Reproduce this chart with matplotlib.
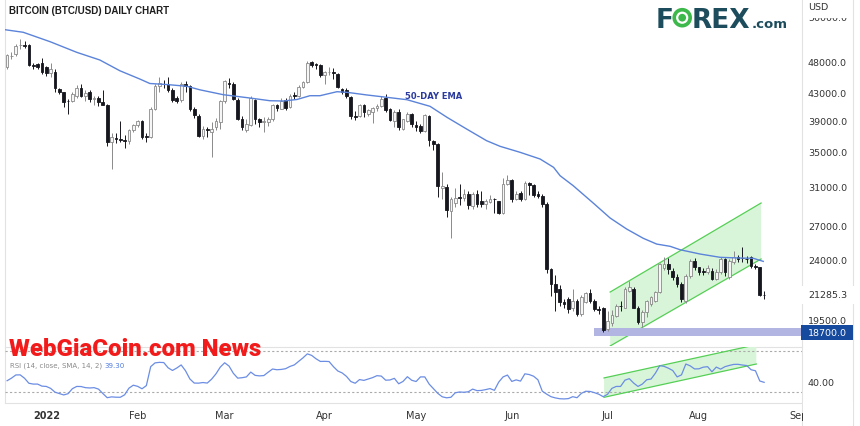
import matplotlib
matplotlib.use("Agg")
import matplotlib.pyplot as plt
import matplotlib.transforms as mtransforms
from matplotlib.lines import Line2D
from matplotlib.patches import Rectangle, Circle
from matplotlib.ticker import NullLocator

# trading-day index: 0 = Mon 3 Jan 2022 (the chart skips weekends)
day_idx = list(range(-9, 166))

opens = [
    47200, 49000, 49400, 50900, 50950, 50900, 47500, 47650, 47750, 47100,
    46150, 46300, 43700, 43200, 41900, 41870, 42600, 43850, 42700, 43200,
    42200, 42400, 41800, 41300, 36300, 36800, 36700, 36500, 36400, 37900,
    38500, 39000, 37100, 36900, 40800, 44100, 44500, 44400, 43600, 42400,
    42000, 44500, 44200, 40800, 39800, 37100, 38000, 37600, 38200, 38900,
    41900, 44600, 44400, 42100, 39300, 37800, 38500, 42100, 39300, 38900,
    38900, 39300, 41300, 40800, 42100, 41000, 42800, 42700, 44000, 44800,
    47950, 47600, 47500, 45870, 46300, 46400, 46100, 43700, 43500, 42500,
    39800, 39800, 41300, 40050, 40300, 40850, 41200, 42400, 40700, 39100,
    40300, 38000, 39100, 40000, 38550, 38350, 37750, 39800, 36450, 36050,
    30900, 31000, 28500, 29300, 30000, 29900, 30300, 29000, 30300, 29500,
    29200, 29400, 29800, 29500, 28300, 31400, 31800, 29700, 30400, 29700,
    31500, 31200, 30300, 30100, 29200, 23300, 22100, 21700, 20750, 20950,
    20370, 20860, 19910, 20800, 21420, 20860, 20250, 20300, 18900, 19300,
    19800, 20500, 20370, 21600, 21720, 20370, 19350, 20030, 20610, 20860,
    21470, 23400, 23710, 23160, 22640, 22120, 20860, 22770, 23990, 23500,
    23100, 23030, 23160, 22500, 23030, 24130, 22640, 23850, 24270, 24200,
    24150, 24270, 23550, 23450, 21300,
]
highs = [
    49400, 49700, 51200, 52000, 51600, 51100, 47900, 47900, 48700, 47400,
    47800, 46800, 43900, 43300, 42200, 43200, 44300, 44400, 43500, 43500,
    42700, 42600, 43500, 41500, 37500, 37500, 39000, 37200, 38000, 38700,
    39200, 39200, 37400, 41000, 44400, 45500, 45100, 45600, 43900, 42700,
    44800, 44900, 44300, 41000, 40000, 38400, 38300, 38900, 39500, 42000,
    45000, 45400, 44700, 42400, 39700, 39300, 42600, 42200, 39500, 39600,
    39600, 41500, 41500, 42300, 42300, 43000, 43300, 44300, 44900, 48200,
    48200, 47900, 47700, 46500, 47200, 47000, 46200, 43900, 43900, 42600,
    40500, 41500, 41500, 40700, 41000, 41500, 42700, 43000, 40900, 40600,
    40700, 39400, 40300, 40200, 39000, 38600, 40000, 39900, 36600, 36200,
    32650, 31300, 30000, 30900, 31300, 30800, 30600, 30500, 30700, 30600,
    29800, 30200, 29900, 29500, 32000, 32300, 31900, 30600, 30600, 31700,
    31600, 31400, 30600, 30300, 29400, 23400, 22800, 22000, 21000, 21100,
    21720, 21000, 21300, 21500, 21700, 21000, 20500, 20400, 20100, 20200,
    20600, 20860, 21900, 22370, 21900, 20500, 20200, 20900, 21200, 21600,
    23800, 24270, 24200, 23400, 22900, 22300, 22900, 24100, 24200, 23500,
    23400, 23600, 23400, 23300, 24300, 24200, 24100, 24840, 24500, 25130,
    24400, 24400, 23700, 23500, 21600,
]
lows = [
    46800, 48500, 49000, 50300, 50400, 47300, 46900, 46900, 46000, 45750,
    45600, 43300, 43000, 41000, 40000, 41700, 42400, 42500, 41900, 41700,
    41300, 41200, 41300, 35800, 33000, 36200, 36300, 35600, 36100, 37600,
    38200, 36700, 36300, 36800, 40600, 43300, 43800, 43300, 41800, 41600,
    41800, 43300, 40400, 39500, 36900, 36700, 37000, 34400, 37800, 38000,
    41600, 43800, 42100, 39200, 37800, 37600, 38400, 38700, 38300, 37600,
    38400, 39000, 40500, 40700, 40600, 40900, 42200, 42500, 43800, 44600,
    47200, 46800, 45600, 44500, 45800, 45300, 43800, 43000, 42400, 39400,
    39200, 39600, 39600, 39800, 38800, 40500, 41000, 40300, 39000, 38300,
    37900, 37800, 38900, 38300, 37700, 37500, 37600, 35800, 35300, 30000,
    29800, 27900, 26000, 28900, 29100, 29500, 28700, 28700, 28900, 28900,
    28700, 29300, 28300, 28200, 28200, 31200, 29400, 29600, 29500, 29600,
    30200, 30000, 29900, 28900, 23000, 21200, 20100, 20500, 20300, 20000,
    20150, 19800, 19800, 20700, 20700, 20100, 19900, 18700, 18750, 19100,
    19700, 20100, 20300, 21500, 20300, 19200, 19000, 19700, 20500, 20800,
    21400, 23200, 22900, 22400, 21900, 20800, 20700, 22600, 23200, 22800,
    22800, 22900, 22400, 22400, 22900, 22770, 22500, 23700, 23900, 23900,
    23800, 23400, 23300, 21200, 20950,
]
closes = [
    49200, 49050, 50700, 50950, 50800, 47550, 47350, 47150, 46300, 46150,
    46900, 43800, 43200, 41700, 41850, 42950, 43850, 42700, 43100, 42200,
    42400, 41750, 41300, 36300, 37000, 36700, 36600, 36400, 37800, 38500,
    39000, 36900, 36900, 40700, 44200, 44600, 44400, 43600, 42000, 41900,
    44500, 44200, 40800, 39900, 37100, 38000, 37800, 38000, 39100, 41900,
    44900, 44500, 42200, 39300, 38200, 38700, 42300, 39400, 38900, 39000,
    39400, 41300, 40900, 41900, 40900, 42700, 42700, 44000, 44700, 47900,
    47500, 47450, 45870, 46300, 46350, 46200, 44000, 43300, 42700, 39800,
    39600, 41300, 40300, 40600, 40850, 41200, 42200, 40600, 39250, 40300,
    38200, 39300, 40000, 38650, 38200, 37750, 39900, 36500, 36050, 31150,
    31100, 28600, 29700, 29900, 29900, 30300, 29100, 30300, 29200, 29200,
    29500, 29800, 29700, 28300, 31400, 31800, 29700, 30300, 29700, 31500,
    31200, 30200, 30100, 29200, 23300, 22100, 21500, 20750, 20650, 20250,
    20860, 19910, 21100, 21420, 20860, 20260, 20200, 18800, 19460, 19850,
    20490, 20450, 21720, 21850, 20370, 19350, 20030, 20860, 21100, 21470,
    23710, 23700, 23300, 22640, 22120, 20980, 22770, 23990, 23430, 23030,
    23080, 23350, 22500, 23030, 24130, 23030, 23990, 24270, 24130, 24180,
    24100, 23570, 23500, 21270, 21285.3,
]

# 50-day EMA
ema_pos = [-9.5, -5.3, 0.9, 7.0, 12.3, 16.9, 21.5, 23.8, 27.7, 32.3, 35.3, 40.7,
           46.8, 51.4, 54.5, 57.6, 60.6, 62.9, 66.8, 69.1, 73.7, 78.3, 82.9, 88.2,
           92.1, 96.6, 101.2, 104.3, 108.9, 113.5, 116.6, 118.1, 121.1, 125.7,
           129.6, 133.4, 137.2, 140.3, 143.4, 145.7, 150.3, 154.9, 159.4, 162.5, 164.8]
ema_val = [53730, 53250, 51520, 49650, 48340, 46560, 45230, 44530, 44370, 44100,
           43560, 42820, 42330, 41930, 41890, 42110, 42670, 42670, 43270, 43180,
           42780, 42430, 42080, 41120, 39570, 37990, 36470, 35760, 35020, 34210,
           33230, 32270, 31170, 29340, 27840, 26790, 25940, 25420, 25220, 24920,
           24550, 24270, 24210, 24190, 23930]

# RSI(14) per trading day
rsi = [
    41.3, 43.8, 46.9, 47.0, 43.7, 38.8, 38.0, 38.0, 36.0, 35.7,
    33.8, 30.1, 28.7, 27.4, 28.6, 33.5, 35.7, 35.6, 34.5, 34.2,
    34.5, 33.1, 28.8, 24.7, 25.5, 25.2, 25.1, 27.5, 34.0, 36.9,
    35.8, 33.4, 36.5, 55.0, 58.7, 59.2, 59.0, 53.9, 51.3, 53.7,
    56.7, 51.0, 43.0, 39.0, 38.9, 39.5, 39.0, 42.8, 48.0, 54.6,
    58.8, 55.6, 48.5, 43.8, 44.2, 45.0, 49.7, 46.5, 46.0, 46.3,
    49.6, 52.7, 52.0, 52.3, 53.0, 55.2, 56.7, 60.1, 63.6, 67.5,
    66.0, 62.7, 60.1, 60.2, 60.0, 55.0, 50.8, 48.9, 45.5, 40.5,
    38.8, 42.4, 41.6, 42.9, 44.3, 46.2, 45.8, 41.8, 42.0, 43.6,
    38.3, 40.6, 45.2, 41.7, 40.5, 45.0, 45.0, 38.0, 33.5, 28.9,
    25.6, 24.6, 25.1, 29.5, 30.3, 30.0, 30.5, 33.1, 31.6, 31.8,
    32.6, 33.6, 31.9, 40.0, 45.0, 46.8, 40.6, 42.1, 40.9, 48.0,
    47.3, 45.7, 42.2, 31.1, 28.2, 25.7, 24.5, 23.7, 23.5, 23.8,
    25.7, 24.7, 29.0, 31.0, 30.8, 29.6, 28.1, 25.7, 28.0, 33.8,
    35.7, 35.7, 41.8, 43.3, 39.0, 35.7, 38.0, 42.2, 42.9, 48.6,
    56.0, 55.3, 53.5, 51.2, 45.0, 47.0, 57.6, 55.8, 52.8, 52.9,
    54.5, 55.0, 50.0, 54.6, 52.6, 55.0, 56.2, 57.2, 57.3, 56.6,
    56.1, 52.0, 51.0, 41.0, 39.7,
]

# drawn-in analysis: rising channel on price and on RSI, support zone
chan_x = [129.6, 164.3]
chan_lo = [17808, 24130]
chan_hi = [21500, 29340]
rsi_chan_x = [128.2, 163.2]
rsi_chan_lo = [25.1, 57.6]
rsi_chan_hi = [44.0, 76.4]
support = 18700
support_zone = (18440, 18960)
support_start = 125.9

price_ticks = [56000, 48000, 43000, 39000, 35000, 31000, 27000, 24000, 19500]
month_idx = [0, 21, 41, 64, 85, 107, 129, 150, 173]
month_lbl = ['2022', 'Feb', 'Mar', 'Apr', 'May', 'Jun', 'Jul', 'Aug', 'Sep']

W, H = 860, 427


def fx(x):
    return x / W


def fy(y):
    return 1 - y / H


fig = plt.figure(figsize=(W / 100, H / 100), dpi=100)
fig.patch.set_facecolor('white')

ax = fig.add_axes([fx(5), fy(347), fx(802) - fx(5), fy(0) - fy(347)])
ax_rsi = fig.add_axes([fx(5), fy(403), fx(802) - fx(5), fy(348) - fy(403)])
xmin, xmax = -9.49, 173.7
for a in (ax, ax_rsi):
    a.patch.set_visible(False)
    for s in a.spines.values():
        s.set_visible(False)
    a.set_xlim(xmin, xmax)

ax.set_yscale('log')
ax.set_ylim(17808, 59810)
ax.set_xticks([])
ax.set_yticks([])
ax.yaxis.set_minor_locator(NullLocator())

# channel + support zone
ax.fill([chan_x[0], chan_x[1], chan_x[1], chan_x[0]],
        [chan_lo[0], chan_lo[1], chan_hi[1], chan_hi[0]],
        color='#d9f5d9', lw=0, zorder=1)
ax.plot(chan_x, chan_lo, color='#55cf55', lw=0.9, zorder=2)
ax.plot(chan_x, chan_hi, color='#55cf55', lw=0.9, zorder=2)
ax.fill_between([support_start, xmax + 1], support_zone[0], support_zone[1],
                color='#b2b4e2', lw=0, zorder=2)

# candles
up = [c >= o for o, c in zip(opens, closes)]
edge = ['#8a8a8a' if u else '#15161e' for u in up]
face = ['#f6f6f6' if u else '#15161e' for u in up]
ax.vlines(day_idx, lows, highs, colors=edge, linewidth=0.7, zorder=4)
ax.bar(day_idx, [abs(c - o) for o, c in zip(opens, closes)],
       bottom=[min(o, c) for o, c in zip(opens, closes)],
       width=0.62, color=face, edgecolor=edge, linewidth=0.6, zorder=5)

ax.plot(ema_pos, ema_val, color='#5b83d9', lw=1.0, zorder=6)
ax.text(89.1, 42630, '50-DAY EMA', color='#2b3a9e', fontsize=6, fontweight='bold',
        ha='center', va='center', zorder=7)

# RSI panel
ax_rsi.set_ylim(20.5, 74.2)
ax_rsi.set_yticks([])
ax_rsi.fill([rsi_chan_x[0], rsi_chan_x[1], rsi_chan_x[1], rsi_chan_x[0]],
            [rsi_chan_lo[0], rsi_chan_lo[1], rsi_chan_hi[1], rsi_chan_hi[0]],
            color='#d9f5d9', lw=0, zorder=1)
ax_rsi.plot(rsi_chan_x, rsi_chan_lo, color='#55cf55', lw=0.9, zorder=2)
ax_rsi.plot(rsi_chan_x, rsi_chan_hi, color='#55cf55', lw=0.9, zorder=2)
for lvl in (70, 30):
    ax_rsi.axhline(lvl, color='#ababab', lw=0.8, ls=(0, (2, 2)), zorder=1)
ax_rsi.plot(day_idx, rsi, color='#6b8de3', lw=0.9, zorder=4)
ax_rsi.set_xticks(month_idx, month_lbl)
ax_rsi.tick_params(axis='x', length=0, pad=6, labelsize=7, labelcolor='#333333')
ax_rsi.get_xticklabels()[0].set_fontweight('bold')

# frame lines
line_kw = dict(transform=fig.transFigure, color='#e2e2e2', lw=0.8, zorder=-1)
fig.add_artist(Line2D([fx(5), fx(802)], [fy(347.5), fy(347.5)], **line_kw))
fig.add_artist(Line2D([fx(5), fx(802)], [fy(403.5), fy(403.5)], **line_kw))
fig.add_artist(Line2D([fx(802), fx(802)], [fy(0), fy(427)], **line_kw))
fig.add_artist(Line2D([fx(5), fx(5)], [fy(0), fy(403)], **line_kw))
fig.add_artist(Line2D([fx(853), fx(853)], [fy(0), fy(427)], **line_kw))

# right price column
blend_p = mtransforms.blended_transform_factory(fig.transFigure, ax.transData)
blend_r = mtransforms.blended_transform_factory(fig.transFigure, ax_rsi.transData)
for p in price_ticks:
    ax.text(fx(808), p, f'{p:.1f}', transform=blend_p, fontsize=6.8, color='#333333',
            va='center', ha='left', zorder=10)
ax.add_patch(Rectangle((fx(800), fy(305)), fx(58), 18 / H, transform=fig.transFigure,
                       facecolor='white', edgecolor='none', clip_on=False, zorder=9))
ax.text(fx(808), closes[-1], f'{closes[-1]:.1f}', transform=blend_p, fontsize=6.8,
        color='#333333', va='center', ha='left', zorder=10)
ax.add_patch(Rectangle((fx(801), fy(341)), fx(52), 15 / H, transform=fig.transFigure,
                       facecolor='#154a9e', edgecolor='none', clip_on=False, zorder=9))
ax.text(fx(808), support, f'{support:.1f}', transform=blend_p, fontsize=6.8,
        color='white', va='center', ha='left', zorder=10)
ax_rsi.text(fx(808), 40, '40.00', transform=blend_r, fontsize=6.8, color='#333333',
            va='center', ha='left', zorder=10)

# "USD" header box hides the top of the 56000 label, as on the original
fig.add_artist(Rectangle((fx(803), fy(18.5)), fx(49), 18.5 / H, transform=fig.transFigure,
                         facecolor='white', edgecolor='none', zorder=5))
fig.text(fx(808), fy(8), 'USD', fontsize=6.8, color='#333333', va='center', ha='left', zorder=6)
fig.add_artist(Rectangle((fx(802.5), fy(427)), fx(50), 24 / H, transform=fig.transFigure,
                         facecolor='white', edgecolor='none', zorder=5))

# titles, logo, watermark
fig.text(fx(9), fy(11), 'BITCOIN (BTC/USD) DAILY CHART', fontsize=7, fontweight='bold',
         family=['Liberation Sans', 'DejaVu Sans'], color='#1e1e1e', va='center', ha='left')

teal = '#1d4d5d'
fig.text(fx(656), fy(28.3), 'F', fontsize=19, fontweight='bold', color=teal, va='baseline')
fig.text(fx(692), fy(28.3), 'REX', fontsize=19, fontweight='bold', color=teal, va='baseline')
fig.text(fx(752), fy(28.3), '.com', fontsize=9.5, fontweight='bold', color=teal, va='baseline')
fig.add_artist(Circle((6.822, (H - 18.7) / 100), 0.098, transform=fig.dpi_scale_trans,
                      facecolor='#3db84a', edgecolor='none', zorder=3))
fig.add_artist(Circle((6.822, (H - 18.7) / 100), 0.05, transform=fig.dpi_scale_trans,
                      facecolor='none', edgecolor='white', lw=1.6, zorder=4))

fig.text(fx(10), fy(366), 'RSI (14, close, SMA, 14, 2)', fontsize=5, color='#8a8a8a',
         va='center', ha='left', zorder=3)
fig.text(fx(104), fy(366), '39.30', fontsize=5, color='#4f7be0', va='center', ha='left', zorder=3)
fig.text(fx(9), fy(356.5), 'WebGiaCoin.com News', fontsize=17.3, fontweight='heavy',
         family=['Roboto', 'DejaVu Sans'], color='#f21b1b',
         va='baseline', ha='left', zorder=10)

fig.savefig('out.png', dpi=100)
